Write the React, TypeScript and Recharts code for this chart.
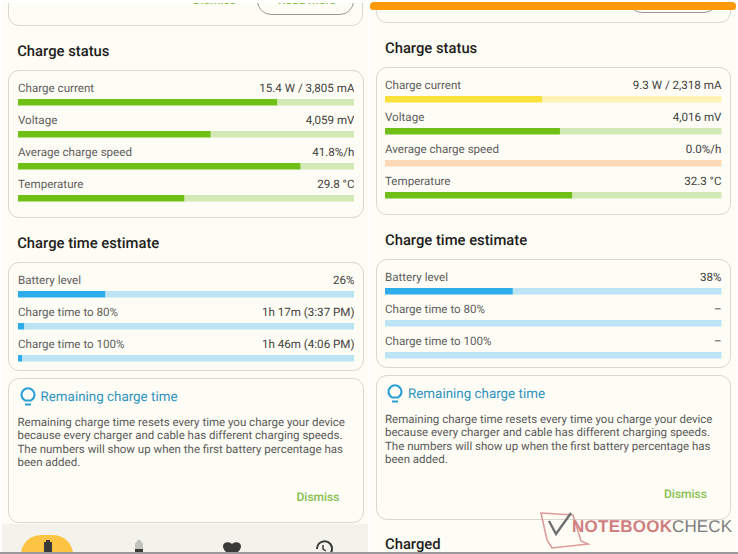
import { Bar, BarChart, Cell, LabelList, XAxis, YAxis } from "recharts";

const chargeLabels = ["Charge current", "Voltage", "Average charge speed", "Temperature"];
const timeLabels = ["Battery level", "Charge time to 80%", "Charge time to 100%"];

const leftChargeValues = [0.771, 0.573, 0.84, 0.495];
const leftChargeReadouts = ["15.4 W / 3,805 mA", "4,059 mV", "41.8%/h", "29.8 °C"];
const leftChargeTones = ["green", "green", "green", "green"];
const leftTimeValues = [0.26, 0.019, 0.013];
const leftTimeReadouts = ["26%", "1h 17m (3:37 PM)", "1h 46m (4:06 PM)"];

const rightChargeValues = [0.467, 0.52, 0, 0.557];
const rightChargeReadouts = ["9.3 W / 2,318 mA", "4,016 mV", "0.0%/h", "32.3 °C"];
const rightChargeTones = ["yellow", "green", "orange", "green"];
const rightTimeValues = [0.38, 0, 0];
const rightTimeReadouts = ["38%", "–", "–"];

const timeTones = ["blue", "blue", "blue"];

const noteLines = [
  "Remaining charge time resets every time you charge your device",
  "because every charger and cable has different charging speeds.",
  "The numbers will show up when the first battery percentage has",
  "been added.",
];

const palette: Record<string, { fill: string; track: string }> = {
  green: { fill: "#6fbf17", track: "#d3e9b5" },
  yellow: { fill: "#fbe13c", track: "#fdf1b4" },
  orange: { fill: "#f08a24", track: "#fbd9b4" },
  blue: { fill: "#2cace8", track: "#bde4f4" },
};

const FONT = "Roboto, sans-serif";

function Meters({
  labels,
  values,
  readouts,
  tones,
  left,
  top,
}: {
  labels: string[];
  values: number[];
  readouts: string[];
  tones: string[];
  left: number;
  top: number;
}) {
  const data = labels.map((name, i) => ({
    name,
    value: values[i],
    rest: 1 - values[i],
    readout: readouts[i],
  }));

  return (
    <div style={{ position: "absolute", left, top }}>
      <BarChart
        width={336.5}
        height={labels.length * 32 + 10}
        data={data}
        layout="vertical"
        margin={{ top: 10, right: 0, bottom: 0, left: 0 }}
      >
        <XAxis type="number" domain={[0, 1]} hide />
        <YAxis type="category" dataKey="name" hide />
        <Bar dataKey="value" stackId="a" barSize={6.5} isAnimationActive={false}>
          {data.map((_, i) => (
            <Cell key={i} fill={palette[tones[i]].fill} />
          ))}
        </Bar>
        <Bar dataKey="rest" stackId="a" barSize={6.5} isAnimationActive={false}>
          {data.map((_, i) => (
            <Cell key={i} fill={palette[tones[i]].track} />
          ))}
          <LabelList
            dataKey="name"
            content={(props: any) => {
              const row = data[props.index];
              const barTop = Number(props.y);
              return (
                <g fontFamily={FONT} fontSize={11.6}>
                  <text x={0} y={barTop - 7} fill="#5e5e5c">
                    {row.name}
                  </text>
                  <text x={336.5} y={barTop - 7} fill="#3f3f3d" textAnchor="end">
                    {row.readout}
                  </text>
                </g>
              );
            }}
          />
        </Bar>
      </BarChart>
    </div>
  );
}

function Card({ left, top, width, height }: { left: number; top: number; width: number; height: number }) {
  return (
    <div
      style={{
        position: "absolute",
        left,
        top,
        width,
        height,
        boxSizing: "border-box",
        border: "1px solid #d8d8d0",
        borderRadius: 11,
      }}
    />
  );
}

function Heading({ text, left, top }: { text: string; left: number; top: number }) {
  return (
    <div
      style={{
        position: "absolute",
        left,
        top,
        fontFamily: FONT,
        fontWeight: 500,
        fontSize: 14.8,
        lineHeight: "18px",
        color: "#1e1e1c",
        whiteSpace: "nowrap",
      }}
    >
      {text}
    </div>
  );
}

function Bulb({ left, top }: { left: number; top: number }) {
  return (
    <svg style={{ position: "absolute", left, top }} width={16} height={20} viewBox="0 0 16 20">
      <path
        d="M5 13.5 C2.5 12 1.5 10 1.5 7.8 A6.5 6.5 0 0 1 14.5 7.8 C14.5 10 13.5 12 11 13.5 Z"
        fill="none"
        stroke="#2a9fd6"
        strokeWidth={2}
      />
      <path d="M5 17.5 H11" stroke="#2a9fd6" strokeWidth={2} />
    </svg>
  );
}

function Note({ left, top }: { left: number; top: number }) {
  return (
    <>
      <Bulb left={left + 2} top={top + 3} />
      <div
        style={{
          position: "absolute",
          left: left + 23,
          top: top + 6,
          fontFamily: FONT,
          fontSize: 13.4,
          lineHeight: "16px",
          color: "#2f93bf",
          whiteSpace: "nowrap",
        }}
      >
        Remaining charge time
      </div>
      {noteLines.map((line, i) => (
        <div
          key={i}
          style={{
            position: "absolute",
            left,
            top: top + 31 + i * 13.35,
            fontFamily: FONT,
            fontSize: 11.5,
            lineHeight: "14px",
            color: "#5a5a58",
            whiteSpace: "nowrap",
          }}
        >
          {line}
        </div>
      ))}
      <div
        style={{
          position: "absolute",
          left: left + 279,
          top: top + 106,
          fontFamily: FONT,
          fontWeight: 500,
          fontSize: 12,
          lineHeight: "14px",
          color: "#86bf4e",
        }}
      >
        Dismiss
      </div>
    </>
  );
}

export default function App() {
  return (
    <div style={{ position: "absolute", left: 0, top: 0, width: 738, height: 554, background: "#ffffff", overflow: "hidden", textRendering: "geometricPrecision" }}>
      {/* left screenshot */}
      <div style={{ position: "absolute", left: 2, top: 3, width: 366, height: 549, background: "#fdfcf5", overflow: "hidden" }}>
        <div style={{ position: "absolute", left: -2, top: -3, width: 370, height: 554 }}>
          <Card left={8} top={-40} width={355} height={66} />
          <div style={{ position: "absolute", left: 257, top: -30, width: 97, height: 45, boxSizing: "border-box", border: "1px solid #9a9a94", borderRadius: 14 }} />
          <div style={{ position: "absolute", left: 193, top: -7, fontFamily: FONT, fontWeight: 500, fontSize: 12, lineHeight: "14px", color: "#86bf4e" }}>Dismiss</div>
          <div style={{ position: "absolute", left: 278, top: -7, fontFamily: FONT, fontWeight: 500, fontSize: 12, lineHeight: "14px", color: "#86bf4e" }}>Read more</div>

          <Heading text="Charge status" left={17.2} top={42} />
          <Card left={8} top={70} width={355.5} height={148} />
          <Meters labels={chargeLabels} values={leftChargeValues} readouts={leftChargeReadouts} tones={leftChargeTones} left={17.5} top={76} />

          <Heading text="Charge time estimate" left={17.2} top={233.5} />
          <Card left={8} top={262} width={355.5} height={109} />
          <Meters labels={timeLabels} values={leftTimeValues} readouts={leftTimeReadouts} tones={timeTones} left={17.5} top={267.7} />

          <Card left={8} top={378} width={355.5} height={145} />
          <Note left={17.5} top={384} />

          {/* bottom nav */}
          <div style={{ position: "absolute", left: 0, top: 524, width: 370, height: 30, background: "#f3f3ec" }} />
          <div style={{ position: "absolute", left: 21, top: 535, width: 52, height: 40, borderRadius: 20, background: "#fdc343" }} />
          <svg style={{ position: "absolute", left: 0, top: 515 }} width={370} height={39}>
            <path d="M44 27 h2 v-2 h4 v2 h2 v14 h-8 Z" fill="#3a3a36" />
            <path d="M135 30 q0 -3 2 -3 v-2 h4 v2 q2 0 2 3 v11 h-8 Z" fill="#c2c2bc" />
            <rect x={135} y={34} width={8} height={6} fill="#3a3a36" />
            <path d="M232 41 C224 37 223 33 223 31 C223 27 229 26 232 29 C235 26 241 27 241 31 C241 33 240 37 232 41 Z" fill="#3a3a36" />
            <path d="M317 34 A7.5 7.5 0 1 1 323 41" fill="none" stroke="#3a3a36" strokeWidth={2} />
            <path d="M323 30 v4 l3 2" fill="none" stroke="#3a3a36" strokeWidth={1.5} />
          </svg>
        </div>
      </div>

      {/* right screenshot */}
      <div style={{ position: "absolute", left: 370, top: 3, width: 367, height: 549, background: "#fdfcf5", overflow: "hidden" }}>
        <div style={{ position: "absolute", left: -370, top: -3, width: 738, height: 554 }}>
          <Card left={375.5} top={-40} width={355.5} height={63} />
          <div style={{ position: "absolute", left: 628, top: -30, width: 90, height: 43, boxSizing: "border-box", border: "1px solid #9a9a94", borderRadius: 14 }} />

          <Heading text="Charge status" left={385} top={38.5} />
          <Card left={375.5} top={67} width={355.5} height={148} />
          <Meters labels={chargeLabels} values={rightChargeValues} readouts={rightChargeReadouts} tones={rightChargeTones} left={385} top={73} />

          <Heading text="Charge time estimate" left={385} top={230.5} />
          <Card left={375.5} top={259} width={355.5} height={109} />
          <Meters labels={timeLabels} values={rightTimeValues} readouts={rightTimeReadouts} tones={timeTones} left={385} top={264.5} />

          <Card left={375.5} top={375} width={355.5} height={145} />
          <Note left={385} top={381} />

          <Heading text="Charged" left={385} top={535} />
        </div>
      </div>
      <div style={{ position: "absolute", left: 370, top: 2, width: 366, height: 8, background: "#fe9a0a", borderRadius: "4px 4px 3px 3px" }} />

      {/* watermark */}
      <svg style={{ position: "absolute", left: 530, top: 500 }} width={208} height={54}>
        <path d="M11 13 L43 15 L51 41 L58 44 L22 48 L17 40 Z" fill="none" stroke="#dc9c9c" strokeWidth={1.6} />
        <path d="M19 21 L26 34 L41 13" fill="none" stroke="#6f6f6f" strokeWidth={2.4} />
        <text x={42} y={32} fontFamily="'Liberation Sans', sans-serif" fontSize={17} fontWeight={700} fill="#cf7f7f" textLength={100}>
          NOTEBOOK
        </text>
        <text x={142} y={32} fontFamily="'Liberation Sans', sans-serif" fontSize={17} fill="#7d7d7d" textLength={60}>
          CHECK
        </text>
      </svg>

      <div style={{ position: "absolute", left: 0, top: 552, width: 738, height: 1.5, background: "#9a9a9a" }} />
    </div>
  );
}
